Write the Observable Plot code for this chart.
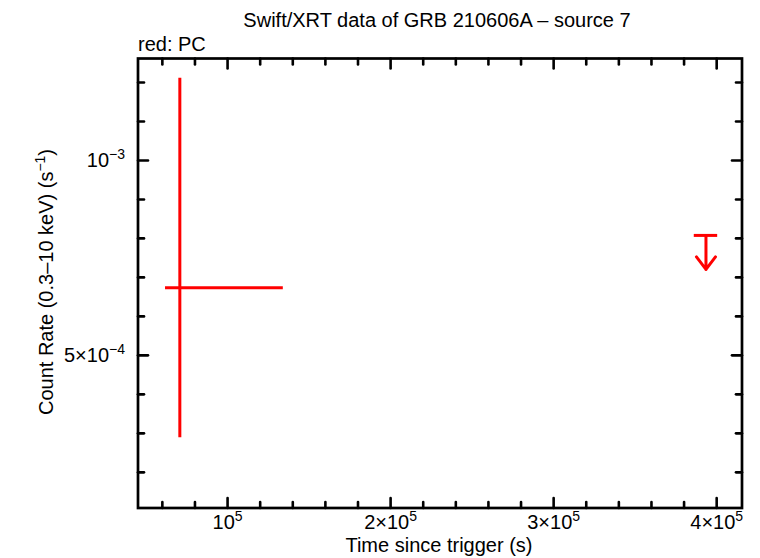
<!DOCTYPE html>
<html>
<head>
<meta charset="utf-8">
<script src="https://cdn.jsdelivr.net/npm/d3@7"></script>
<script src="https://cdn.jsdelivr.net/npm/@observablehq/plot@0.6"></script>
<style>
  html, body { margin: 0; padding: 0; background: #fff; }
  #chart svg { display: block; }
</style>
</head>
<body>
<div id="chart"></div>
<script>
// ---- data ----
const detTime   = [70720];
const detTimeLo = [61940];
const detTimeHi = [134190];
const detRate   = [6.736e-4];
const detRateLo = [2.890e-4];
const detRateHi = [1.211e-3];

const ulTime   = [393430];
const ulTimeLo = [386250];
const ulTimeHi = [400610];
const ulRate   = [8.077e-4];

const xDomain = [45060, 415530];
const yDomain = [1.085e-4, 1.2615e-3];

const xMajor = [1e5, 2e5, 3e5, 4e5];
const xMajorLabels = ["10^5", "2×10^5", "3×10^5", "4×10^5"];
const xMinor = [6e4, 8e4, 1.2e5, 1.4e5, 1.6e5, 1.8e5, 2.2e5, 2.4e5, 2.6e5, 2.8e5, 3.2e5, 3.4e5, 3.6e5, 3.8e5];
const yMajor = [5e-4, 1e-3];
const yMajorLabels = ["5×10^−4", "10^−3"];
const yMinor = [2e-4, 3e-4, 4e-4, 6e-4, 7e-4, 8e-4, 9e-4, 1.1e-3, 1.2e-3];

const titleText = "Swift/XRT data of GRB 210606A – source 7";
const subtitleText = "red: PC";
const xLabelText = "Time since trigger (s)";
const yLabelText = "Count Rate (0.3–10 keV) (s^−1^)";

// ---- build ----
const det = detTime.map((t, i) => ({t, lo: detTimeLo[i], hi: detTimeHi[i], r: detRate[i], rlo: detRateLo[i], rhi: detRateHi[i]}));
const ul = ulTime.map((t, i) => ({t, lo: ulTimeLo[i], hi: ulTimeHi[i], r: ulRate[i]}));

const lineShape = {draw(ctx, l) { ctx.moveTo(0, 0); ctx.lineTo(0, -l); }};
const ulArrow = {draw(ctx, l) {
  ctx.moveTo(0, 0); ctx.lineTo(0, -l);
  ctx.moveTo(-9.5, -l + 12.5); ctx.lineTo(0, -l); ctx.lineTo(9.5, -l + 12.5);
}};

const FONT = "'Liberation Sans', Arial, Helvetica, sans-serif";
const tickStyle = {stroke: "black", strokeWidth: 2.6, shape: lineShape, anchor: "start"};
const xLab = new Map(xMajor.map((v, i) => [v, xMajorLabels[i]]));
const yLab = new Map(yMajor.map((v, i) => [v, yMajorLabels[i]]));

const chart = Plot.plot({
  width: 760,
  height: 558,
  marginLeft: 137.5,
  marginRight: 18.5,
  marginTop: 58,
  marginBottom: 50.5,
  style: {fontFamily: FONT, background: "white"},
  x: {type: "linear", domain: xDomain},
  y: {type: "linear", domain: yDomain},
  marks: [
    Plot.axisX(xMajor, {anchor: "bottom", tickSize: 0, tickPadding: 7, fontSize: 20, fill: "black", tickFormat: d => xLab.get(d), label: null}),
    Plot.axisY(yMajor, {anchor: "left", tickSize: 0, tickPadding: 13, fontSize: 20, fill: "black", tickFormat: d => yLab.get(d), label: null}),
    // inward ticks on all four sides
    Plot.vector(xMajor, {x: d => d, frameAnchor: "bottom", length: 10, rotate: 0, ...tickStyle}),
    Plot.vector(xMinor, {x: d => d, frameAnchor: "bottom", length: 6, rotate: 0, ...tickStyle}),
    Plot.vector(xMajor, {x: d => d, frameAnchor: "top", length: 10, rotate: 180, ...tickStyle}),
    Plot.vector(xMinor, {x: d => d, frameAnchor: "top", length: 6, rotate: 180, ...tickStyle}),
    Plot.vector(yMajor, {y: d => d, frameAnchor: "left", length: 10, rotate: 90, ...tickStyle}),
    Plot.vector(yMinor, {y: d => d, frameAnchor: "left", length: 6, rotate: 90, ...tickStyle}),
    Plot.vector(yMajor, {y: d => d, frameAnchor: "right", length: 10, rotate: -90, ...tickStyle}),
    Plot.vector(yMinor, {y: d => d, frameAnchor: "right", length: 6, rotate: -90, ...tickStyle}),
    Plot.frame({stroke: "black", strokeWidth: 2.7}),
    // detection with error bars
    Plot.ruleY(det, {y: "r", x1: "lo", x2: "hi", stroke: "red", strokeWidth: 3}),
    Plot.ruleX(det, {x: "t", y1: "rlo", y2: "rhi", stroke: "red", strokeWidth: 3}),
    // upper limit
    Plot.ruleY(ul, {y: "r", x1: "lo", x2: "hi", stroke: "red", strokeWidth: 3}),
    Plot.vector(ul, {x: "t", y: "r", length: 34, rotate: 180, anchor: "start", shape: ulArrow, stroke: "red", strokeWidth: 3})
  ]
});

// superscript rendering for "^"-marked text
function setSup(textEl, str, supSize, supDy) {
  const parts = str.split("^");
  textEl.textContent = "";
  const ns = "http://www.w3.org/2000/svg";
  parts.forEach((p, i) => {
    if (p === "") return;
    const ts = document.createElementNS(ns, "tspan");
    ts.textContent = p;
    if (i % 2 === 1) {
      ts.setAttribute("font-size", supSize);
      ts.setAttribute("dy", -supDy);
    } else if (i > 0) {
      ts.setAttribute("dy", supDy);
    }
    textEl.appendChild(ts);
  });
}
chart.querySelectorAll('g[aria-label="x-axis tick label"] text, g[aria-label="y-axis tick label"] text').forEach(t => {
  const s = t.textContent;
  if (s.includes("^")) setSup(t, s + "^", 14, 8);
});

const svg = d3.select(chart);
svg.append("text").attr("x", 437).attr("y", 27).attr("text-anchor", "middle")
  .attr("font-size", 20).attr("font-family", FONT).text(titleText);
svg.append("text").attr("x", 138).attr("y", 51).attr("text-anchor", "start")
  .attr("font-size", 20).attr("font-family", FONT).text(subtitleText);
svg.append("text").attr("x", 439).attr("y", 552).attr("text-anchor", "middle")
  .attr("font-size", 20).attr("font-family", FONT).text(xLabelText);
const yl = svg.append("text").attr("transform", "translate(53,282) rotate(-90)").attr("text-anchor", "middle")
  .attr("font-size", 20).attr("font-family", FONT);
setSup(yl.node(), yLabelText, 14, 8);

document.getElementById("chart").appendChild(chart);
</script>
</body>
</html>
